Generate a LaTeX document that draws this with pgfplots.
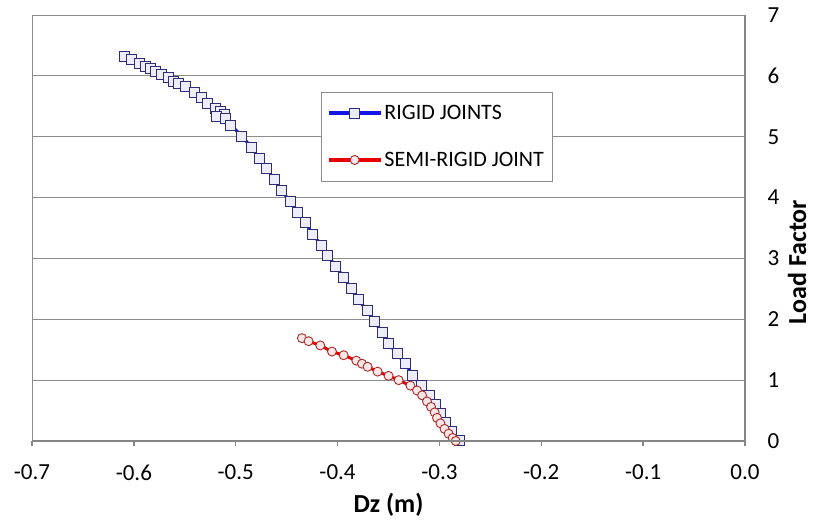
\documentclass[border=0pt]{standalone}
\usepackage{pgfplots}
\pgfplotsset{compat=1.18}
\usepackage{fontspec}
\setmainfont{Carlito}
\definecolor{gridgray}{RGB}{140,140,140}
\definecolor{axgray}{RGB}{134,134,134}
\definecolor{bline}{RGB}{20,20,230}
\definecolor{bedge}{RGB}{45,45,120}
\definecolor{bfill}{RGB}{236,236,250}
\definecolor{rline}{RGB}{230,0,0}
\definecolor{redge}{RGB}{170,40,40}
\definecolor{rfill}{RGB}{253,230,230}
\begin{document}
\begin{tikzpicture}[x=1pt,y=1pt]
\begin{axis}[
  scale only axis,
  width=713pt, height=426pt,
  xmin=-0.7, xmax=0.0, ymin=0, ymax=7,
  xtick={-0.7,-0.6,...,0.01},
  ytick={0,1,...,7},
  xtick pos=bottom, ytick pos=right,
  tick align=outside,
  major tick length=5pt,
  x tick style={axgray, line width=1.5pt},
  y tick style={draw=none},
  ymajorgrids,
  grid style={gridgray, line width=0.8pt},
  axis line style={gridgray, line width=0.8pt},
  font=\fontsize{23}{27}\selectfont,
  /pgf/number format/assume math mode=true,
  xticklabel style={/pgf/number format/.cd, fixed, fixed zerofill, precision=1, /tikz/.cd, yshift=-15pt},
  yticklabel style={xshift=14pt},
  every axis x label/.style={at={(axis description cs:0.5,-0.15)}, anchor=center, font=\fontsize{26}{31}\selectfont\bfseries},
  every axis y label/.style={at={(axis description cs:1.073,0.42)}, anchor=center, rotate=90, font=\fontsize{26}{31}\selectfont\bfseries},
  xlabel={Dz (m)},
  ylabel={Load Factor},
  legend style={at={(axis description cs:0.405,0.819)}, anchor=north west, draw=gridgray, fill=white, font=\fontsize{22}{26}\selectfont, row sep=27pt, inner xsep=6pt, inner ysep=11pt},
  legend cell align=left,
  legend image code/.code={\draw[line width=3.5pt, mark repeat=2,mark phase=2] plot coordinates {(0pt,0pt) (26pt,0pt) (52pt,0pt)};},
  after end axis/.code={\draw[axgray, line width=2pt] (rel axis cs:0,0) -- (rel axis cs:1,0) -- (rel axis cs:1,1);
    \coordinate (ll) at (rel axis cs:0,0); \coordinate (ur) at (rel axis cs:1,1);},
]
\addplot[bline, line width=3pt, mark=square*, mark size=5pt, mark options={draw=bedge, fill=bfill, line width=1pt}] coordinates {
(-0.6096,6.31) (-0.602,6.27) (-0.5946,6.21) (-0.589,6.16) (-0.584,6.12) (-0.579,6.07)
(-0.5725,6.02) (-0.566,5.98) (-0.561,5.91) (-0.556,5.88) (-0.5496,5.82) (-0.5405,5.72)
(-0.534,5.64) (-0.5273,5.54) (-0.520,5.46) (-0.515,5.41) (-0.511,5.37) (-0.519,5.33)
(-0.510,5.30) (-0.5047,5.19) (-0.494,5.01) (-0.4848,4.83) (-0.4769,4.64) (-0.4694,4.47)
(-0.4622,4.30) (-0.4546,4.11) (-0.4465,3.93) (-0.4389,3.76) (-0.4317,3.59) (-0.4246,3.40)
(-0.416,3.22) (-0.4094,3.04) (-0.4016,2.87) (-0.394,2.69) (-0.3865,2.50) (-0.3793,2.32)
(-0.3711,2.14) (-0.3639,1.96) (-0.3563,1.79) (-0.350,1.61) (-0.3416,1.43) (-0.3334,1.27)
(-0.3263,1.08) (-0.318,0.91) (-0.3096,0.75) (-0.304,0.60) (-0.299,0.45) (-0.294,0.30)
(-0.288,0.15) (-0.280,0.00)
};
\addlegendentry{RIGID JOINTS}
\addplot[rline, line width=3pt, mark=*, mark size=4.5pt, mark options={draw=redge, fill=rfill, line width=0.9pt}] coordinates {
(-0.435,1.69) (-0.4285,1.64) (-0.417,1.57) (-0.4055,1.47) (-0.394,1.41) (-0.3816,1.32)
(-0.376,1.27) (-0.3705,1.22) (-0.3607,1.14) (-0.3499,1.07) (-0.340,1.00) (-0.3285,0.91)
(-0.322,0.83) (-0.317,0.75) (-0.3122,0.65) (-0.3082,0.56) (-0.3047,0.47) (-0.3024,0.38)
(-0.299,0.29) (-0.295,0.20) (-0.291,0.12) (-0.287,0.05) (-0.284,0.00)
};
\addlegendentry{SEMI-RIGID JOINT}
\end{axis}
\pgfresetboundingbox
\path[use as bounding box] ([shift={(-32pt,-91pt)}]ll) rectangle ([shift={(69pt,15pt)}]ur);
\end{tikzpicture}
\end{document}
